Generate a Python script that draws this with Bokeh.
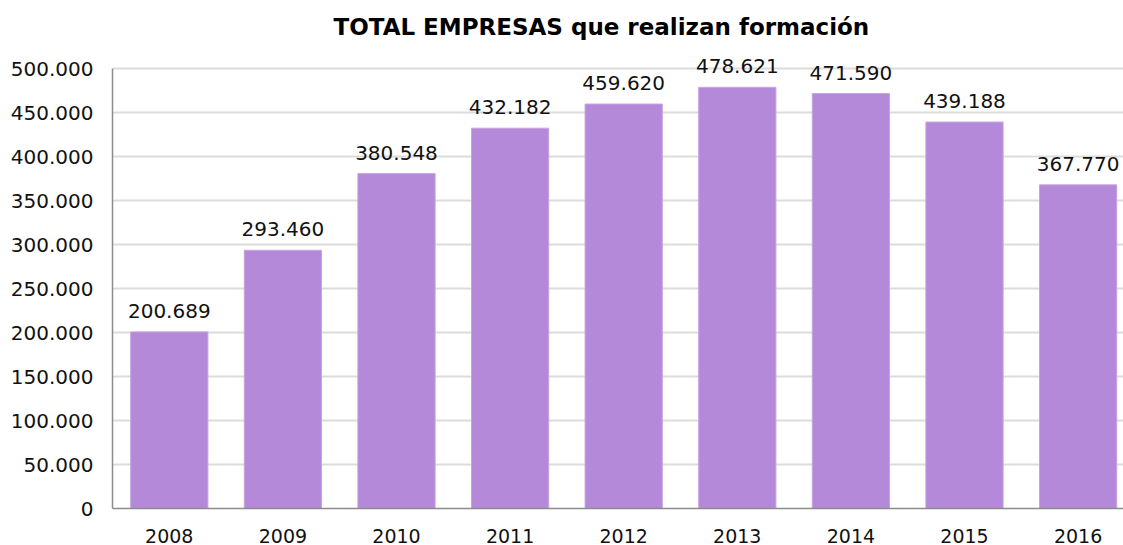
from bokeh.plotting import figure
from bokeh.models import Range1d, FixedTicker, ColumnDataSource, LabelSet, Title
from bokeh.core.properties import value
from bokeh.embed import file_html
from bokeh.resources import INLINE

years = ["2008", "2009", "2010", "2011", "2012", "2013", "2014", "2015", "2016"]
empresas = [200689, 293460, 380548, 432182, 459620, 478621, 471590, 439188, 367770]
bar_labels = ["200.689", "293.460", "380.548", "432.182", "459.620", "478.621", "471.590", "439.188", "367.770"]
y_ticks = [0, 50000, 100000, 150000, 200000, 250000, 300000, 350000, 400000, 450000, 500000]
y_tick_labels = ["0", "50.000", "100.000", "150.000", "200.000", "250.000", "300.000", "350.000", "400.000", "450.000", "500.000"]
title_text = "TOTAL EMPRESAS que realizan  formación"

xs = list(range(len(years)))
src = ColumnDataSource(dict(x=xs, y=empresas, lab=bar_labels))

W, H = 1123, 545
p = figure(width=W, height=H, output_backend="svg", toolbar_location=None,
           x_range=Range1d(-0.5, -0.5 + 1011 / 113.6), y_range=Range1d(0, 525000),
           min_border_left=112, min_border_right=0, min_border_top=46, min_border_bottom=36)
p.title = None
t = Title(text=title_text, align="left", offset=221, text_font="DejaVu Sans",
          text_font_style="bold", text_font_size="23px", text_color="#000000", standoff=13)
p.add_layout(t, "above")

p.outline_line_color = None
p.background_fill_color = "white"
p.border_fill_color = "white"

p.vbar(x="x", top="y", width=0.68, source=src, fill_color="#b589d9",
       line_color="#c7a5e0", line_width=1)

labels = LabelSet(x="x", y="y", text="lab", source=src, text_align="center",
                  text_baseline="alphabetic", y_offset=14, text_font=value("DejaVu Sans"),
                  text_font_size="20px", text_color="#111111")
p.add_layout(labels)

p.xaxis.ticker = FixedTicker(ticks=xs)
p.xaxis.major_label_overrides = {i: y for i, y in enumerate(years)}
p.yaxis.ticker = FixedTicker(ticks=y_ticks)
p.yaxis.major_label_overrides = {v: s for v, s in zip(y_ticks, y_tick_labels)}
p.yaxis.bounds = (y_ticks[0], y_ticks[-1])

for ax in (p.xaxis, p.yaxis):
    ax.axis_line_color = "#8c8c8c"
    ax.axis_line_width = 1.5
    ax.major_tick_line_color = None
    ax.minor_tick_line_color = None
    ax.major_tick_out = 0
    ax.major_tick_in = 0
    ax.major_label_text_font = "DejaVu Sans"
    ax.major_label_text_color = "#111111"
p.yaxis.major_label_text_font_size = "20px"
p.xaxis.major_label_text_font_size = "19px"
p.yaxis.major_label_standoff = 19
p.xaxis.major_label_standoff = 20

p.xgrid.grid_line_color = None
p.ygrid.grid_line_color = "#dcdcdc"
p.ygrid.grid_line_width = 2
p.ygrid.ticker = FixedTicker(ticks=y_ticks)

open("out.html", "w").write(file_html(p, INLINE))
